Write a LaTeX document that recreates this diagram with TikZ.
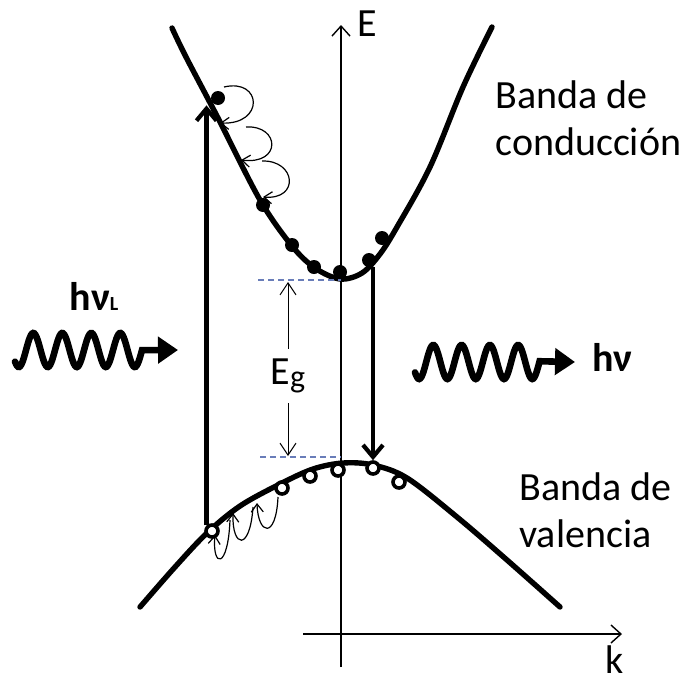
\documentclass[tikz,border=0pt]{standalone}
\usepackage{fontspec}
\setmainfont{Carlito}
\usetikzlibrary{arrows.meta,positioning}

\definecolor{gapblue}{RGB}{105,125,185}

\tikzset{
  band/.style={line width=2.7pt, line cap=round},
  axis/.style={line width=0.7pt, -{Straight Barb[length=5pt,width=9pt]}},
  vert/.style={line width=2.1pt, -{Straight Barb[length=6pt,width=10pt]}},
  curl/.style={line width=0.6pt, -{Straight Barb[length=4pt,width=6pt]}},
  gapdash/.style={gapblue, line width=0.6pt, dash pattern=on 3pt off 2pt},
  gaparrow/.style={line width=0.5pt, -{Straight Barb[length=6pt,width=8pt]}},
  elec/.style={circle, fill=black, inner sep=0pt, minimum size=7pt},
  hole/.style={circle, draw=black, line width=1.8pt, fill=white, inner sep=0pt, minimum size=6pt},
  photon/.style={line width=3.3pt, line cap=round, -{Triangle[length=10pt,width=13pt]}},
  lbl/.style={font=\fontsize{20}{23.5}\selectfont, inner sep=0pt},
  boldlbl/.style={font=\fontsize{20}{23.5}\selectfont\bfseries, inner sep=0pt},
}

\begin{document}
\begin{tikzpicture}[x=0.5pt,y=-0.5pt]
  \useasboundingbox (0,0) rectangle (688,680);
  % axes
  \draw[axis] (341,667) -- (341,25);
  \draw[axis] (303,634) -- (622,634);
  \node[lbl, anchor=west] (elab) at (357,24) {E};
  \node[lbl, anchor=base] (klab) at (615,673) {k};
  % bands
  \draw[band] plot[smooth, tension=0.55] coordinates {(172,28) (186,57) (218,118) (260,200)
    (292,246) (315,268) (340,279) (362,273) (380,254) (397,227) (430,167) (463,87) (492,27)};
  \draw[band] plot[smooth, tension=0.55] coordinates {(140,607) (175,567) (207,533) (240,506)
    (280,484) (313,469) (343,463) (373,465) (407,478) (457,517) (507,560) (560,607)};
  % gap
  \draw[gapdash] (258,280) -- (341,280);
  \draw[gapdash] (260,457) -- (341,457);
  \node[lbl, inner ysep=5pt] (eg) at (288,376) {E\raisebox{-1.5pt}{\fontsize{16}{16}\selectfont g}};
  \coordinate (gaptop) at (288,282);
  \coordinate (gapbot) at (288,456);
  \draw[gaparrow] (eg) -- (gaptop);
  \draw[gaparrow] (eg) -- (gapbot);
  % electrons
  \node[elec] (e1) at (218,98) {};
  \node[elec] (e2) at (263,205) {};
  \node[elec] (e3) at (292,245) {};
  \node[elec] (e4) at (314,267) {};
  \node[elec] (e5) at (340,272) {};
  \node[elec] (e6) at (369,260) {};
  \node[elec] (e7) at (382,238) {};
  % holes
  \node[hole] (h1) at (212,531) {};
  \node[hole] (h2) at (282,488) {};
  \node[hole] (h3) at (310,476) {};
  \node[hole] (h4) at (338,470) {};
  \node[hole] (h5) at (373,468) {};
  \node[hole] (h6) at (399,482) {};
  % transitions
  \draw[vert] (h1.north west) -- (h1.north west |- e1.south);
  \draw[vert] (h5.north |- e6.south) -- (h5.north);
  % relaxation
  \draw[curl] (224,87) .. controls (262,78) and (265,125) .. (220,123);
  \draw[curl] (246,127) .. controls (280,125) and (282,165) .. (241,160);
  \draw[curl] (262,161) .. controls (296,160) and (300,200) .. (263,197);
  \draw[curl] (278,497) .. controls (276,540) and (258,535) .. (257,503);
  \draw[curl] (253,507) .. controls (250,552) and (232,548) .. (233,513);
  \draw[curl] (230,520) .. controls (228,570) and (212,568) .. (215,535);
  % photons
  \draw[photon] plot[domain=15:142, samples=120] (\x,{350-17*sin((\x-26.05)/29*360)}) -- (178,350);
  \node[boldlbl, anchor=base] (hvl) at (94,310) {hν{\fontsize{10}{10}\selectfont L}};
  \draw[photon] plot[domain=415:539.6, samples=120] (\x,{362-17*sin((\x-426.2)/28.3*360)}) -- (575,362);
  \node[boldlbl, anchor=base west] (hv) at (592,371) {hν};
  % band names
  \node[lbl, align=left, anchor=north west] (cblab) at (495,80) {Banda de\\conducción};
  \node[lbl, align=left, anchor=north west] (vblab) at (519,472) {Banda de\\valencia};
\end{tikzpicture}
\end{document}
